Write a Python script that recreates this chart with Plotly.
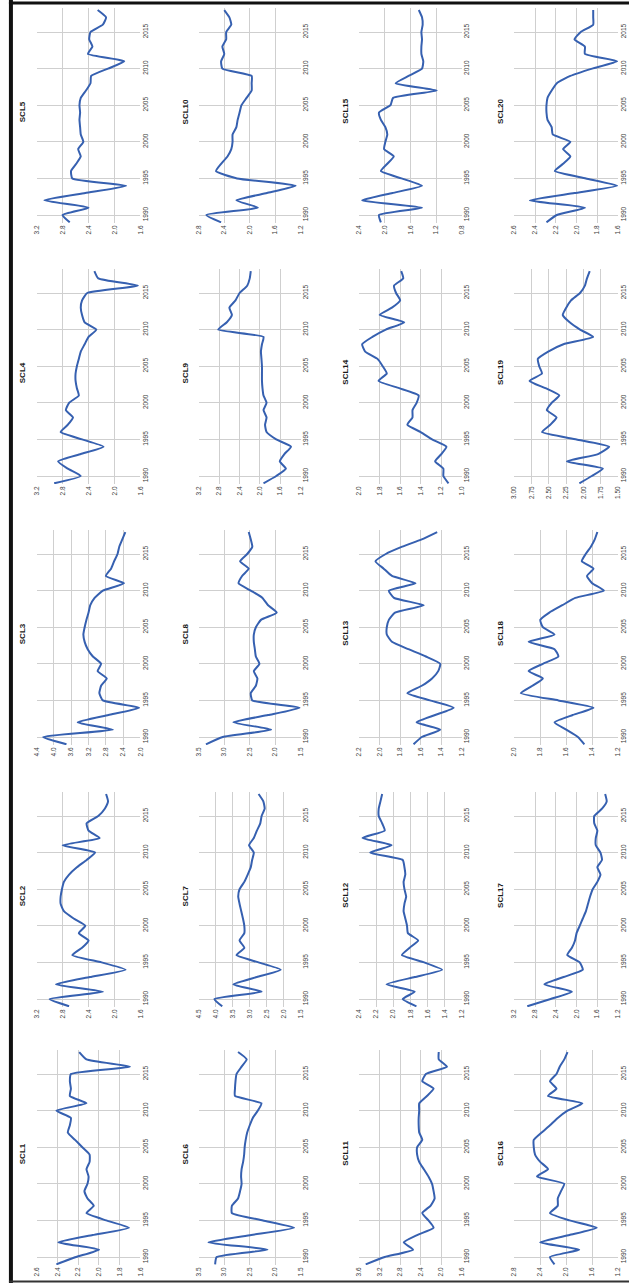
import plotly.graph_objects as go

# ---------------- data (years 1989-2018) ----------------
YEARS = list(range(1989, 2019))
YEAR_TICKS = [1990, 1995, 2000, 2005, 2010, 2015]

SCL1 = [2.41, 2.22, 2.00, 2.39, 2.06, 1.71, 1.93, 2.12, 2.05, 2.11, 2.14, 2.11, 2.10, 2.12, 2.09,
        2.09, 2.16, 2.23, 2.30, 2.28, 2.27, 2.41, 2.12, 2.28, 2.27, 2.28, 2.27, 1.70, 2.12, 2.19]
SCL2 = [2.70, 3.00, 2.18, 2.90, 2.38, 1.83, 2.20, 2.65, 2.50, 2.40, 2.55, 2.45, 2.63, 2.78, 2.83,
        2.83, 2.81, 2.78, 2.70, 2.58, 2.43, 2.30, 2.80, 2.23, 2.40, 2.43, 2.25, 2.15, 2.10, 2.13]
SCL3 = [3.71, 4.25, 2.64, 3.45, 2.74, 2.03, 2.87, 2.95, 2.91, 2.78, 2.99, 2.91, 3.10, 3.22, 3.29,
        3.32, 3.29, 3.25, 3.20, 3.16, 3.06, 2.87, 2.38, 2.80, 2.68, 2.61, 2.53, 2.49, 2.42, 2.35]
SCL4 = [2.93, 2.52, 2.72, 2.87, 2.52, 2.17, 2.50, 2.83, 2.72, 2.64, 2.75, 2.70, 2.55, 2.58, 2.60,
        2.60, 2.58, 2.55, 2.52, 2.46, 2.40, 2.28, 2.46, 2.50, 2.52, 2.50, 2.42, 1.64, 2.25, 2.31]
SCL5 = [2.69, 2.80, 2.40, 3.08, 2.45, 1.82, 2.65, 2.67, 2.59, 2.52, 2.56, 2.48, 2.52, 2.53, 2.54,
        2.53, 2.54, 2.52, 2.44, 2.37, 2.36, 2.10, 1.85, 2.41, 2.34, 2.39, 2.37, 2.18, 2.13, 2.26]
SCL6 = [3.18, 3.15, 2.15, 3.31, 2.47, 1.63, 2.24, 2.85, 2.85, 2.73, 2.69, 2.66, 2.67, 2.66, 2.63,
        2.61, 2.60, 2.58, 2.55, 2.50, 2.44, 2.34, 2.27, 2.79, 2.79, 2.78, 2.76, 2.66, 2.56, 2.73]
SCL7 = [3.81, 4.04, 2.65, 3.48, 2.79, 2.09, 2.74, 3.39, 3.16, 3.30, 3.16, 3.16, 3.20, 3.25, 3.30,
        3.34, 3.30, 3.16, 3.06, 2.97, 2.93, 2.88, 3.02, 2.88, 2.79, 2.69, 2.65, 2.56, 2.60, 2.74]
SCL8 = [3.36, 3.03, 2.08, 2.82, 2.14, 1.52, 2.45, 2.48, 2.38, 2.35, 2.42, 2.31, 2.38, 2.40, 2.42,
        2.42, 2.38, 2.28, 1.97, 2.14, 2.25, 2.48, 2.72, 2.65, 2.52, 2.69, 2.55, 2.45, 2.48, 2.52]
SCL9 = [1.93, 1.68, 1.49, 1.61, 1.52, 1.39, 1.68, 1.87, 1.90, 1.87, 1.93, 1.87, 1.93, 1.95, 1.96,
        1.96, 1.96, 1.97, 1.98, 1.96, 1.93, 2.82, 2.65, 2.55, 2.60, 2.48, 2.40, 2.25, 2.20, 2.18]
SCL10 = [2.45, 2.68, 1.87, 2.21, 1.73, 1.28, 2.20, 2.53, 2.45, 2.35, 2.29, 2.27, 2.27, 2.21, 2.19,
         2.16, 2.13, 2.05, 1.97, 1.97, 1.97, 2.43, 2.45, 2.40, 2.43, 2.37, 2.37, 2.29, 2.32, 2.40]
SCL11 = [3.47, 3.10, 2.55, 2.73, 2.47, 2.15, 2.25, 2.37, 2.21, 2.13, 2.15, 2.18, 2.25, 2.34, 2.43,
         2.47, 2.47, 2.37, 2.43, 2.44, 2.44, 2.43, 2.43, 2.28, 2.15, 2.37, 2.30, 1.89, 2.05, 2.05]
SCL12 = [1.73, 1.89, 1.75, 2.08, 1.75, 1.43, 1.64, 1.90, 1.81, 1.71, 1.83, 1.84, 1.86, 1.88, 1.87,
         1.85, 1.87, 1.88, 1.86, 1.87, 1.89, 2.27, 2.02, 2.36, 2.10, 2.13, 2.17, 2.17, 2.15, 2.13]
SCL13 = [1.67, 1.59, 1.41, 1.64, 1.46, 1.28, 1.51, 1.73, 1.59, 1.49, 1.43, 1.41, 1.55, 1.72, 1.88,
         1.93, 1.93, 1.91, 1.85, 1.57, 1.86, 1.91, 1.65, 1.88, 1.96, 2.04, 1.94, 1.78, 1.59, 1.44]
SCL14 = [1.13, 1.18, 1.18, 1.26, 1.20, 1.15, 1.29, 1.40, 1.53, 1.48, 1.48, 1.44, 1.42, 1.61, 1.81,
         1.73, 1.77, 1.82, 1.94, 1.97, 1.87, 1.74, 1.56, 1.80, 1.68, 1.60, 1.64, 1.66, 1.57, 1.59]
SCL15 = [2.06, 2.09, 1.42, 2.35, 1.88, 1.42, 1.74, 2.06, 1.96, 1.86, 2.01, 1.99, 1.96, 1.99, 2.06,
         2.09, 1.91, 1.87, 1.19, 1.83, 1.63, 1.42, 1.40, 1.43, 1.43, 1.42, 1.43, 1.41, 1.42, 1.47]
SCL16 = [2.18, 2.25, 1.80, 2.40, 1.95, 1.53, 1.95, 2.25, 2.13, 2.13, 2.08, 2.03, 2.45, 2.28, 2.40,
         2.48, 2.50, 2.50, 2.38, 2.25, 2.13, 1.98, 1.75, 2.28, 2.15, 2.25, 2.15, 2.10, 2.03, 1.98]
SCL17 = [2.95, 2.50, 2.09, 2.62, 2.25, 1.88, 1.94, 2.18, 2.09, 2.03, 2.00, 1.94, 1.88, 1.82, 1.78,
         1.74, 1.69, 1.60, 1.54, 1.60, 1.51, 1.54, 1.63, 1.63, 1.60, 1.66, 1.66, 1.51, 1.42, 1.45]
SCL18 = [1.46, 1.51, 1.60, 1.69, 1.55, 1.39, 1.66, 1.95, 1.86, 1.78, 1.89, 1.78, 1.66, 1.69, 1.89,
         1.69, 1.78, 1.80, 1.73, 1.63, 1.53, 1.31, 1.40, 1.44, 1.39, 1.48, 1.45, 1.41, 1.38, 1.36]
SCL19 = [2.06, 1.88, 1.72, 2.24, 1.79, 1.63, 2.10, 2.60, 2.48, 2.39, 2.53, 2.46, 2.35, 2.55, 2.78,
         2.60, 2.64, 2.66, 2.51, 2.29, 1.86, 2.05, 2.20, 2.30, 2.25, 2.18, 2.05, 1.98, 1.95, 1.91]
SCL20 = [2.29, 2.19, 1.92, 2.45, 2.02, 1.61, 1.91, 2.21, 2.13, 2.06, 2.13, 2.06, 2.23, 2.24, 2.28,
         2.29, 2.29, 2.28, 2.24, 2.19, 2.06, 1.85, 1.61, 1.92, 1.92, 2.02, 1.96, 1.84, 1.84, 1.84]

# value-axis tick labels of every panel (top value first)
TICKS1 = [2.6, 2.4, 2.2, 2.0, 1.8, 1.6]
TICKS2 = [3.2, 2.8, 2.4, 2.0, 1.6]
TICKS3 = [4.4, 4.0, 3.6, 3.2, 2.8, 2.4, 2.0]
TICKS4 = [3.2, 2.8, 2.4, 2.0, 1.6]
TICKS5 = [3.2, 2.8, 2.4, 2.0, 1.6]
TICKS6 = [3.5, 3.0, 2.5, 2.0, 1.5]
TICKS7 = [4.5, 4.0, 3.5, 3.0, 2.5, 2.0, 1.5]
TICKS8 = [3.5, 3.0, 2.5, 2.0, 1.5]
TICKS9 = [3.2, 2.8, 2.4, 2.0, 1.6, 1.2]
TICKS10 = [2.8, 2.4, 2.0, 1.6, 1.2]
TICKS11 = [3.6, 3.2, 2.8, 2.4, 2.0, 1.6]
TICKS12 = [2.4, 2.2, 2.0, 1.8, 1.6, 1.4, 1.2]
TICKS13 = [2.2, 2.0, 1.8, 1.6, 1.4, 1.2]
TICKS14 = [2.0, 1.8, 1.6, 1.4, 1.2, 1.0]
TICKS15 = [2.4, 2.0, 1.6, 1.2, 0.8]
TICKS16 = [2.8, 2.4, 2.0, 1.6, 1.2]
TICKS17 = [3.2, 2.8, 2.4, 2.0, 1.6, 1.2]
TICKS18 = [2.0, 1.8, 1.6, 1.4, 1.2]
TICKS19 = [3.00, 2.75, 2.50, 2.25, 2.00, 1.75, 1.50]
TICKS20 = [2.6, 2.4, 2.2, 2.0, 1.8, 1.6]

NAMES = ["SCL%d" % i for i in range(1, 21)]
SERIES = [SCL1, SCL2, SCL3, SCL4, SCL5, SCL6, SCL7, SCL8, SCL9, SCL10,
          SCL11, SCL12, SCL13, SCL14, SCL15, SCL16, SCL17, SCL18, SCL19, SCL20]
TICKS = [TICKS1, TICKS2, TICKS3, TICKS4, TICKS5, TICKS6, TICKS7, TICKS8, TICKS9, TICKS10,
         TICKS11, TICKS12, TICKS13, TICKS14, TICKS15, TICKS16, TICKS17, TICKS18, TICKS19, TICKS20]

# ---------------- layout geometry (pixels) ----------------
W, H = 632, 1283
COL_X = [(33, 138), (197, 300), (359, 463), (516, 621)]
ROW_Y1990 = [215, 476, 737, 999, 1257]
PX_PER_YEAR = 7.32
YEAR_RANGE = [1988.9, 2018.3]

LINE_COLOR = "#3660b0"
GRID_COLOR = "#cfcfcf"
TICK_FONT = dict(family="Liberation Sans, Arial, sans-serif", size=6.5, color="#3a3a3a")

fig = go.Figure()
annotations = []
layout_axes = {}

for k in range(1, 21):
    c = (k - 1) // 5
    r = 4 - (k - 1) % 5
    x0, x1 = COL_X[c]
    y1990 = ROW_Y1990[r]
    top = y1990 - PX_PER_YEAR * (YEAR_RANGE[1] - 1990)
    bot = y1990 + PX_PER_YEAR * (1990 - YEAR_RANGE[0])
    xd = [x0 / W, x1 / W]
    yd = [1 - bot / H, 1 - top / H]
    ticks = TICKS[k - 1]
    fmt = "%.2f" if k == 19 else "%.1f"
    sfx = "" if k == 1 else str(k)

    fig.add_trace(go.Scatter(
        x=SERIES[k - 1], y=YEARS, mode="lines",
        line=dict(color=LINE_COLOR, width=2, shape="spline", smoothing=0.45),
        xaxis="x" + sfx, yaxis="y" + sfx, showlegend=False, hoverinfo="skip"))

    layout_axes["xaxis" + sfx] = dict(
        domain=xd, anchor="y" + sfx, range=[max(ticks), min(ticks)],
        tickvals=ticks, ticktext=[fmt % t for t in ticks], tickangle=-90,
        tickfont=TICK_FONT, showgrid=True, gridcolor=GRID_COLOR, gridwidth=1,
        zeroline=False, showline=False, ticks="", fixedrange=True)
    layout_axes["yaxis" + sfx] = dict(
        domain=yd, anchor="x" + sfx, range=YEAR_RANGE, side="right",
        tickvals=YEAR_TICKS, ticktext=[str(y) for y in YEAR_TICKS], tickangle=-90,
        tickfont=TICK_FONT, showgrid=True, gridcolor=GRID_COLOR, gridwidth=1,
        zeroline=False, showline=False, ticks="", fixedrange=True)

    annotations.append(dict(
        text="<b>%s</b>" % NAMES[k - 1], textangle=-90,
        x=(x0 - 14) / W, y=1 - ((top + bot) / 2 - 4) / H,
        xref="paper", yref="paper", showarrow=False,
        xanchor="center", yanchor="middle",
        font=dict(family="Liberation Sans, Arial, sans-serif", size=8, color="#1a1a1a")))

shapes = [
    dict(type="line", xref="paper", yref="paper", x0=7 / W, x1=7 / W, y0=0, y1=1,
         line=dict(color="#111111", width=4)),
    dict(type="line", xref="paper", yref="paper", x0=5 / W, x1=1, y0=1 - 3 / H, y1=1 - 3 / H,
         line=dict(color="#111111", width=3)),
    dict(type="line", xref="paper", yref="paper", x0=5 / W, x1=1, y0=1 - 1281.5 / H,
         y1=1 - 1281.5 / H, line=dict(color="#333333", width=2)),
]

fig.update_layout(
    width=W, height=H, autosize=False,
    margin=dict(l=0, r=0, t=0, b=0),
    paper_bgcolor="white", plot_bgcolor="white",
    annotations=annotations, shapes=shapes,
    **layout_axes)

fig.write_html(
    "out.html",
    config={"displayModeBar": False, "staticPlot": True},
    post_script="document.body.style.margin='0px';document.body.style.overflow='hidden';")
